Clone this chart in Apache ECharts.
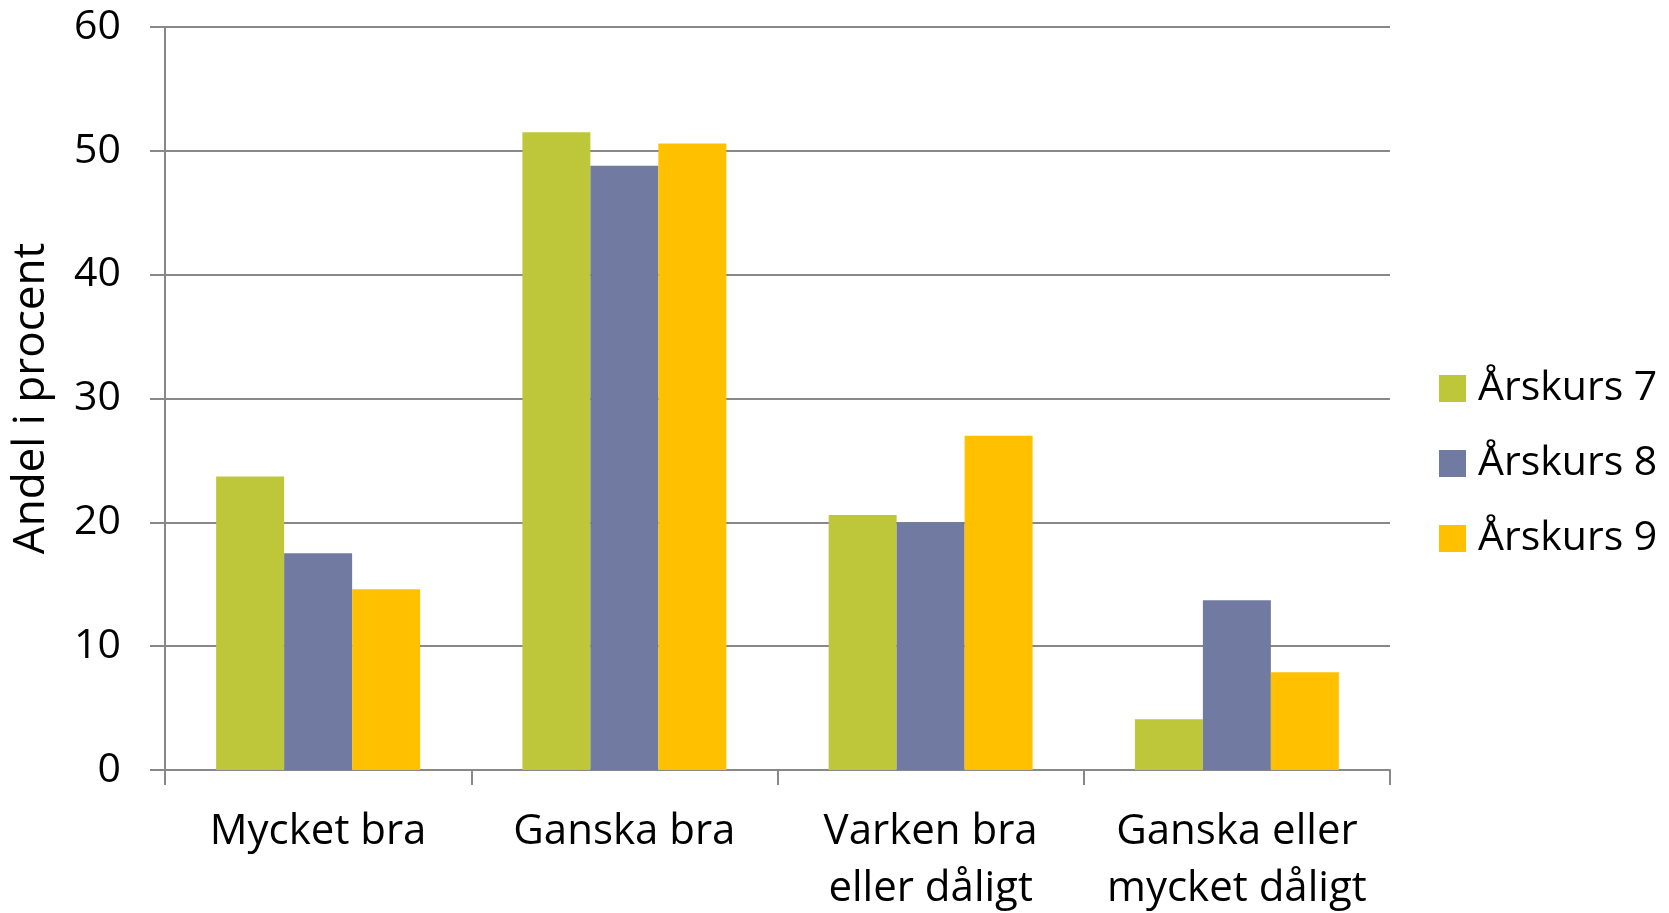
<!DOCTYPE html>
<html>
<head>
<meta charset="utf-8">
<script src="https://cdn.jsdelivr.net/npm/echarts@6/dist/echarts.min.js"></script>
<style>
  html, body { margin: 0; padding: 0; background: #fff; }
  #chart { width: 1669px; height: 913px; }
</style>
</head>
<body>
<div id="chart"></div>
<script>
var categories = ['Mycket bra', 'Ganska bra', 'Varken bra\neller dåligt', 'Ganska eller\nmycket dåligt'];
var seriesNames = ['Årskurs 7', 'Årskurs 8', 'Årskurs 9'];
var ak7 = [23.7, 51.5, 20.6, 4.1];
var ak8 = [17.5, 48.8, 20.0, 13.7];
var ak9 = [14.6, 50.6, 27.0, 7.9];
var colors = ['#bdc739', '#717ba1', '#ffc000'];

var font = "'Open Sans', 'DejaVu Sans', sans-serif";
var gridColor = '#888888';

var myChart = echarts.init(document.getElementById('chart'));

var option = {
    backgroundColor: '#ffffff',
    animation: false,
    textStyle: { fontFamily: font, color: '#000' },
    grid: {
        left: 165,
        right: 279,
        top: 27,
        bottom: 143,
        containLabel: false,
        outerBoundsMode: 'none'
    },
    legend: {
        orient: 'vertical',
        left: 1439,
        top: 368,
        padding: 0,
        itemWidth: 27,
        itemHeight: 27,
        itemGap: 34,
        icon: 'rect',
        data: seriesNames,
        textStyle: {
            fontFamily: font,
            fontSize: 41,
            lineHeight: 40,
            color: '#000',
            padding: [0, 0, 0, 7]
        }
    },
    xAxis: {
        type: 'category',
        data: categories,
        axisLine: { lineStyle: { color: gridColor, width: 2 } },
        axisTick: { show: true, length: 15, lineStyle: { color: gridColor, width: 2 } },
        axisLabel: {
            fontFamily: font,
            fontSize: 42,
            lineHeight: 57,
            color: '#000',
            margin: 34,
            interval: 0
        }
    },
    yAxis: {
        type: 'value',
        min: 0,
        max: 60,
        interval: 10,
        name: 'Andel i procent',
        nameLocation: 'middle',
        nameGap: 112,
        nameTextStyle: { fontFamily: font, fontSize: 44, color: '#000' },
        axisLine: { show: true, lineStyle: { color: gridColor, width: 2 } },
        axisTick: { show: true, length: 15, lineStyle: { color: gridColor, width: 2 } },
        axisLabel: { fontFamily: font, fontSize: 41, color: '#000', margin: 44 },
        splitLine: { lineStyle: { color: gridColor, width: 2 } }
    },
    series: [
        { name: seriesNames[0], type: 'bar', data: ak7, itemStyle: { color: colors[0] }, barGap: '0%', barCategoryGap: '33.4%' },
        { name: seriesNames[1], type: 'bar', data: ak8, itemStyle: { color: colors[1] }, barGap: '0%', barCategoryGap: '33.4%' },
        { name: seriesNames[2], type: 'bar', data: ak9, itemStyle: { color: colors[2] }, barGap: '0%', barCategoryGap: '33.4%' }
    ]
};

myChart.setOption(option, true);
</script>
</body>
</html>
